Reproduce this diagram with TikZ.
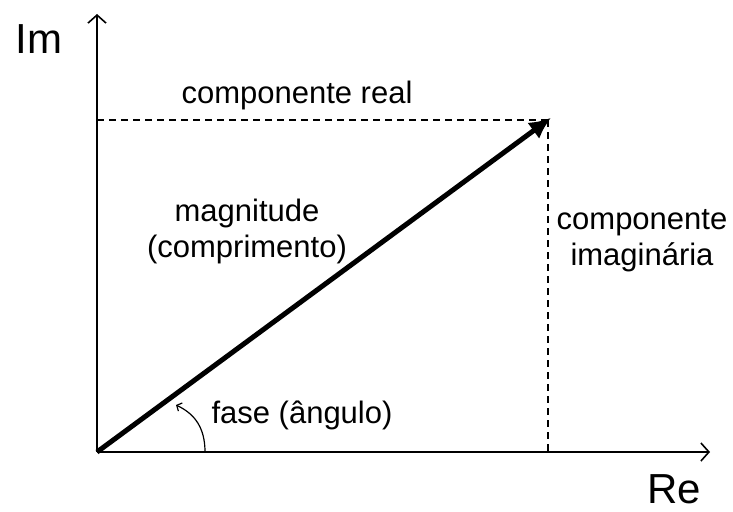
\documentclass[tikz,border=0pt]{standalone}
\usepackage{fontspec}
\setmainfont{Liberation Sans}
\usetikzlibrary{arrows.meta}

\begin{document}
\begin{tikzpicture}[
    x=1pt, y=-1pt,
    % Line styles
    axis/.style={line width=1.6pt, -{Straight Barb[length=8pt, width=18pt, line width=1.6pt]}},
    vec/.style={line width=5pt, -{Latex[length=22pt, width=20pt]}, shorten >=-4pt},
    guide/.style={line width=1.3pt, dash pattern=on 7pt off 5pt},
    angarrow/.style={line width=1.2pt, -{Straight Barb[length=4pt, width=9pt]}},
    % Text styles
    lbl/.style={font=\fontsize{31}{36}\selectfont, align=center, inner sep=0pt, anchor=base},
    axlbl/.style={font=\fontsize{42}{46}\selectfont, inner sep=0pt, anchor=base}
]
\useasboundingbox (0,0) rectangle (733,511);

% axes
\coordinate (origin) at (97,452);
\coordinate (imTop) at (97,14);
\coordinate (reEnd) at (710,452);
\draw[axis] (origin) -- (imTop);
\draw[axis] (origin) -- (reEnd);

\node[axlbl] (imLabel) at (39,53) {Im};
\node[axlbl] (reLabel) at (674,503) {Re};

% projections
\coordinate (tip) at (548,120);
\coordinate (imProj) at (97,120);
\coordinate (reProj) at (548,452);
\draw[guide] (imProj) -- (tip);
\draw[guide] (tip) -- (reProj);

% the vector
\draw[vec] (origin) -- (tip);

% phase arc
\coordinate (arcStart) at (205,452);
\coordinate (arcEnd) at (176,405);
\draw[angarrow] (arcStart) .. controls (205,428) and (195,414) .. (arcEnd);

% labels (base = baseline of the last line)
\node[lbl] (realLabel) at (297,103) {componente real};
\node[lbl] (magLabel) at (247,257) {magnitude\\(comprimento)};
\node[lbl] (imagLabel) at (642,265) {componente\\imaginária};
\node[lbl] (phaseLabel) at (302,423) {fase (ângulo)};

\end{tikzpicture}
\end{document}
